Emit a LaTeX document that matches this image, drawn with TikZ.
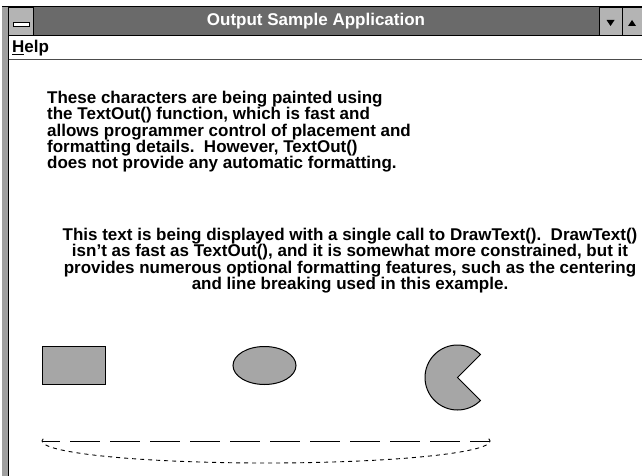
\documentclass[tikz,border=0pt]{standalone}
\usepackage{xcolor}
\usepackage{fontspec}
\setmainfont{Liberation Sans}
\usepackage{tikz}
\usetikzlibrary{arrows.meta,positioning,calc,shapes.geometric}
\definecolor{titlegray}{HTML}{6A6A6A}
\definecolor{boxgray}{HTML}{B4B4B4}
\definecolor{framegray}{HTML}{A0A0A0}
\definecolor{shapegray}{HTML}{A6A6A6}

\begin{document}
\begin{tikzpicture}[x=1pt, y=-1pt,
  wintext/.style={inner sep=0pt, font=\fontsize{17}{16.3}\selectfont\bfseries},
  shapebox/.style={draw=black, fill=shapegray, line width=1pt},
  btn/.style={draw=black, fill=boxgray, line width=0.8pt},
  dashline/.style={line width=1pt, dash pattern=on 30pt off 10pt, dash phase=12pt},
  dotarc/.style={line width=0.9pt, dash pattern=on 4pt off 4pt}
]
  \useasboundingbox (0,0) rectangle (642,476);
  \fill[white] (0,0) rectangle (642,476);

  % window frame and title bar
  \fill[framegray] (2,6) rectangle (8.5,476);
  \draw[line width=1pt] (8.5,6) -- (8.5,476);
  \fill[titlegray] (8.5,7) rectangle (642,35);
  \draw[line width=1.2pt] (2,6.5) -- (642,6.5);
  \draw[btn] (8.5,7) rectangle (33,35);
  \draw[fill=white, line width=0.8pt] (13,22) rectangle (29,26);
  \draw[btn] (599,7) rectangle (622,35);
  \draw[btn] (622,7) rectangle (642,35);
  \fill (606.5,20) -- (614.5,20) -- (610.5,26) -- cycle;
  \fill (628,26) -- (636,26) -- (632,20) -- cycle;
  \draw[line width=1.2pt] (8.5,35.5) -- (642,35.5);
  \node[wintext, text=white] (title) at (316,21) {Output Sample Application};

  % menu bar
  \node[wintext, anchor=west] (menu) at (12,48) {\underline{H}elp};
  \draw[line width=1pt, black!70] (8.5,60) -- (642,60);

  % TextOut() lines
  \node[wintext, anchor=north west, align=left] (textout) at (47,91) {These characters are being painted using\\
    the TextOut() function, which is fast and\\
    allows programmer control of placement and\\
    formatting details.\ \ However, TextOut()\\
    does not provide any automatic formatting.};

  % DrawText() paragraph
  \node[wintext, anchor=north, align=center] (drawtext) at (350,228) {This text is being displayed with a single call to DrawText().\ \ DrawText()\\
    isn't as fast as TextOut(), and it is somewhat more constrained, but it\\
    provides numerous optional formatting features, such as the centering\\
    and line breaking used in this example.};

  % shapes
  \draw[shapebox] (42,346) rectangle (105,384);
  \node[shapebox, ellipse, minimum width=63pt, minimum height=38pt, inner sep=0pt] (oval) at (264.5,365.5) {};
  \coordinate (piec) at (457.5,377.5);
  \draw[shapebox] (piec) -- ($(piec)+(45:32.5)$) arc[start angle=45, end angle=315, radius=32.5] -- cycle;

  % line and arc
  \coordinate (lineL) at (42,441);
  \coordinate (lineR) at (490,441);
  \coordinate (arcR) at (488.8,438.7);
  \draw[dashline] (lineL) -- (lineR);
  \draw[dotarc] (arcR) arc[start angle=-6, end angle=186, x radius=224, y radius=22];
\end{tikzpicture}
\end{document}
